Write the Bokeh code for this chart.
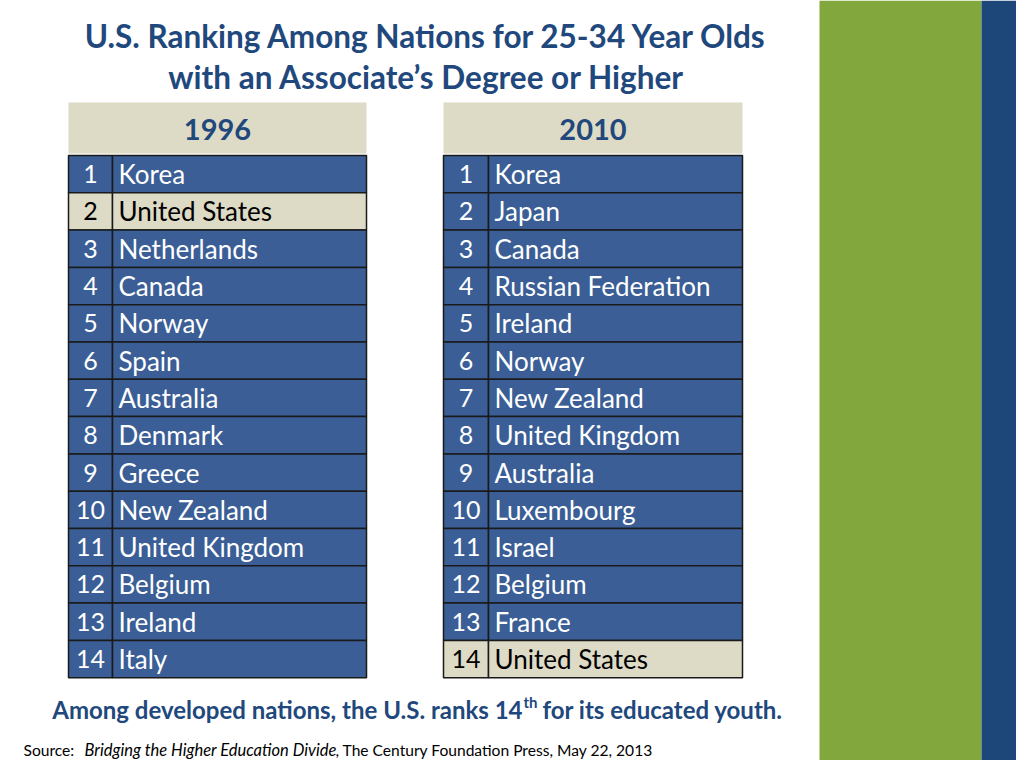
from bokeh.plotting import figure
from bokeh.models import ColumnDataSource, Range1d
from bokeh.core.properties import value
from bokeh.embed import file_html
from bokeh.resources import INLINE

# ---- data ----
ranks = list(range(1, 15))
countries_1996 = ["Korea", "United States", "Netherlands", "Canada", "Norway", "Spain",
                  "Australia", "Denmark", "Greece", "New Zealand", "United Kingdom",
                  "Belgium", "Ireland", "Italy"]
countries_2010 = ["Korea", "Japan", "Canada", "Russian Federation", "Ireland", "Norway",
                  "New Zealand", "United Kingdom", "Australia", "Luxembourg", "Israel",
                  "Belgium", "France", "United States"]
years = ["1996", "2010"]
title_lines = ["U.S. Ranking Among Nations for 25-34 Year Olds",
               "with an Associate\u2019s Degree or Higher"]
note_parts = ["Among developed nations, the U.S. ranks 14", "th", "for its educated youth."]
source_parts = ["Source:", "Bridging the Higher Education Divide",
                ", The Century Foundation Press, May 22, 2013"]
highlight = "United States"

# ---- style ----
FONT = "Lato"
BLUE_ROW = "#3a5e95"
BEIGE = "#dddac5"
TITLE_C = "#21487c"
GREEN = "#82a83d"
DARK_BLUE = "#1d4779"
BORDER = "#1a1a1a"

W, H = 1016, 760
p = figure(width=W, height=H, x_range=Range1d(0, W), y_range=Range1d(H, 0),
           output_backend="svg", toolbar_location=None, min_border=0)
p.axis.visible = False
p.grid.visible = False
p.outline_line_color = None
p.background_fill_color = "white"
p.border_fill_color = "white"

# right decorative bars
p.quad(left=[819], right=[981], top=[0], bottom=[768], fill_color=GREEN, line_color=None)
p.quad(left=[981], right=[1030], top=[0], bottom=[768], fill_color=DARK_BLUE, line_color=None)

# title
p.text(x=[426, 426], y=[35, 76], text=title_lines, text_align="center", text_baseline="middle",
       text_font=value(FONT), text_font_size="31.5px", text_font_style="bold", text_color=TITLE_C)

ROW_TOP = 155.0
ROW_H = 37.3
tables = [(68, 112, 366, countries_1996), (443, 488, 742, countries_2010)]

for (x0, xm, x1, names), yr in zip(tables, years):
    # header
    p.quad(left=[x0], right=[x1], top=[102], bottom=[153], fill_color=BEIGE, line_color=None)
    p.text(x=[(x0 + x1) / 2], y=[129], text=[yr], text_align="center", text_baseline="middle",
           text_font=value(FONT), text_font_size="29px", text_font_style="bold", text_color=TITLE_C)
    tops = [ROW_TOP + (r - 1) * ROW_H for r in ranks]
    bots = [t + ROW_H for t in tops]
    mids = [t + ROW_H / 2 for t in tops]
    fills = [BEIGE if n == highlight else BLUE_ROW for n in names]
    tcols = ["black" if n == highlight else "white" for n in names]
    src = ColumnDataSource(dict(rank=[str(r) for r in ranks], name=names, top=tops, bottom=bots,
                                mid=mids, fill=fills, tcol=tcols,
                                l0=[x0] * 14, lm=[xm] * 14, r1=[x1] * 14,
                                rx=[(x0 + xm) / 2] * 14, nx=[xm + 6] * 14))
    p.quad(left="l0", right="lm", top="top", bottom="bottom", fill_color="fill",
           line_color=BORDER, line_width=1.5, source=src)
    p.quad(left="lm", right="r1", top="top", bottom="bottom", fill_color="fill",
           line_color=BORDER, line_width=1.5, source=src)
    p.text(x="rx", y="mid", text="rank", text_align="center", text_baseline="middle",
           text_font=value(FONT), text_font_size="25px", text_color="tcol", source=src)
    p.text(x="nx", y="mid", text="name", text_align="left", text_baseline="middle",
           text_font=value(FONT), text_font_size="26px", text_color="tcol", source=src)

# footnote with superscript
p.text(x=[522], y=[709], text=[note_parts[0]], text_align="right", text_baseline="middle",
       text_font=value(FONT), text_font_size="24px", text_font_style="bold", text_color=TITLE_C)
p.text(x=[523], y=[701], text=[note_parts[1]], text_align="left", text_baseline="middle",
       text_font=value(FONT), text_font_size="15px", text_font_style="bold", text_color=TITLE_C)
p.text(x=[542], y=[709], text=[note_parts[2]], text_align="left", text_baseline="middle",
       text_font=value(FONT), text_font_size="24px", text_font_style="bold", text_color=TITLE_C)

# source line
p.text(x=[23], y=[749], text=[source_parts[0]], text_align="left", text_baseline="middle",
       text_font=value(FONT), text_font_size="15.6px", text_color="black")
p.text(x=[84], y=[749], text=[source_parts[1]], text_align="left", text_baseline="middle",
       text_font=value(FONT), text_font_size="16.5px", text_font_style="italic", text_color="black")
p.text(x=[335], y=[749], text=[source_parts[2]], text_align="left", text_baseline="middle",
       text_font=value(FONT), text_font_size="15.6px", text_color="black")

open("out.html", "w").write(file_html(p, INLINE))
